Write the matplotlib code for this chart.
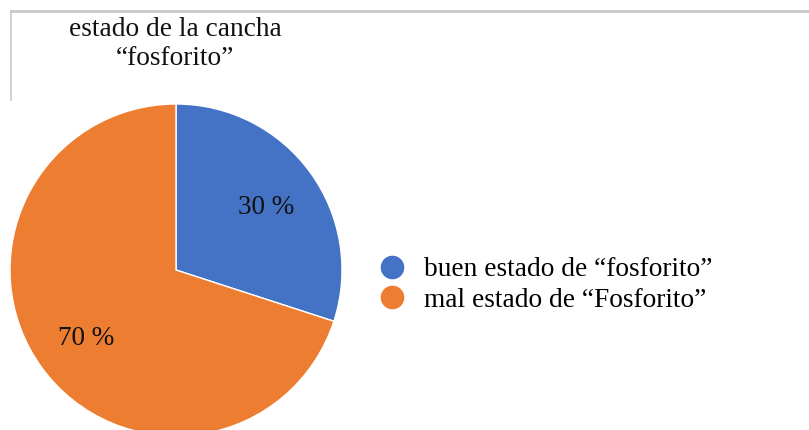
import matplotlib
matplotlib.use("Agg")
import matplotlib.pyplot as plt
from matplotlib.lines import Line2D

# datos de la encuesta
categorias = ['buen estado de \u201cfosforito\u201d', 'mal estado de \u201cFosforito\u201d']
porcentajes = [30, 70]
colores = ['#4472C4', '#ED7D31']
titulo = 'estado de la cancha\n\u201cfosforito\u201d'

plt.rcParams['font.family'] = ['Liberation Serif', 'DejaVu Serif']

W, H = 809, 430
fig = plt.figure(figsize=(W / 100, H / 100), dpi=100)

# eje del grafico circular (centro ~ (176, 270), radio ~166 px)
cx, cy, r = 176, 270, 166
ax = fig.add_axes([(cx - r) / W, (H - cy - r) / H, 2 * r / W, 2 * r / H])
wedges, _, autotexts = ax.pie(
    porcentajes, colors=colores, startangle=90, counterclock=False,
    autopct=lambda p: '%d %%' % round(p), pctdistance=0.67,
    wedgeprops=dict(edgecolor='white', linewidth=1),
    textprops=dict(fontsize=19.5, color='#111111',
                   verticalalignment='center_baseline'))
ax.set_xlim(-1, 1)
ax.set_ylim(-1, 1)
ax.set_aspect('equal')

# titulo
fig.text(175 / W, 1 - 44 / H, titulo, ha='center', va='center',
         fontsize=19.7, linespacing=1.2, color='#111111')

# marco gris
fig.add_artist(Line2D([11 / W, 1], [1 - 10.5 / H, 1 - 10.5 / H],
                      transform=fig.transFigure, color='#c8c8c8', lw=2))
fig.add_artist(Line2D([11 / W, 11 / W], [1 - 10.5 / H, 1 - 100 / H],
                      transform=fig.transFigure, color='#c8c8c8', lw=1.2))

# leyenda
handles = [Line2D([], [], marker='o', linestyle='none', markersize=16,
                  markerfacecolor=c, markeredgecolor=c) for c in colores]
fig.legend(handles, categorias, loc='center left',
           bbox_to_anchor=(362 / W, 1 - 285 / H), frameon=False,
           fontsize=19.7, labelspacing=0.2, handletextpad=0.55,
           borderpad=0, handlelength=1.2)

fig.savefig('out.png', dpi=100)
